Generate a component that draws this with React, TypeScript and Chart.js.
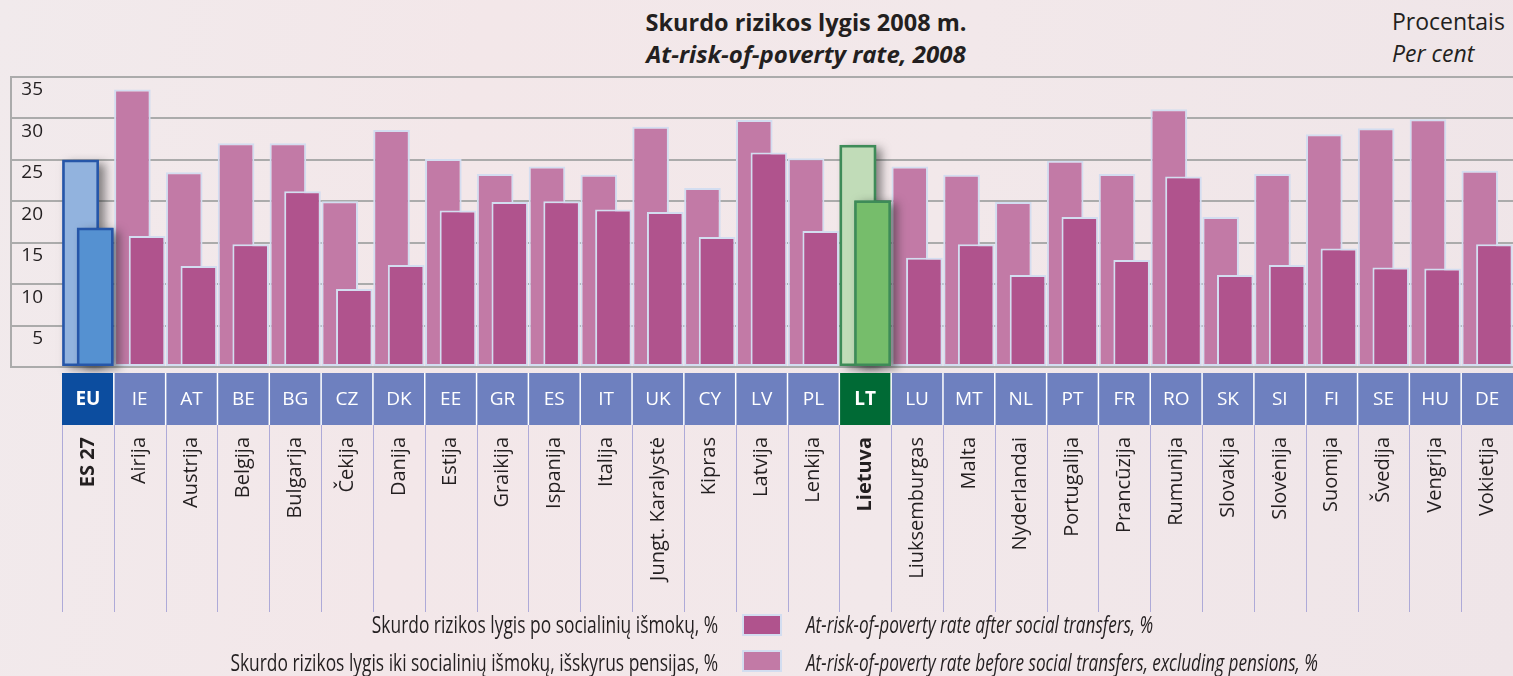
import React, { useEffect, useRef } from 'react';
import { Chart, registerables } from 'chart.js';

Chart.register(...registerables);

// ---- data ----
const codes = ['EU', 'IE', 'AT', 'BE', 'BG', 'CZ', 'DK', 'EE', 'GR', 'ES', 'IT', 'UK', 'CY', 'LV', 'PL', 'LT', 'LU', 'MT', 'NL', 'PT', 'FR', 'RO', 'SK', 'SI', 'FI', 'SE', 'HU', 'DE'];
const names = ['ES 27', 'Airija', 'Austrija', 'Belgija', 'Bulgarija', 'Čekija', 'Danija', 'Estija', 'Graikija', 'Ispanija', 'Italija', 'Jungt. Karalystė', 'Kipras', 'Latvija', 'Lenkija', 'Lietuva', 'Liuksemburgas', 'Malta', 'Nyderlandai', 'Portugalija', 'Prancūzija', 'Rumunija', 'Slovakija', 'Slovėnija', 'Suomija', 'Švedija', 'Vengrija', 'Vokietija'];
const beforeTransfers = [25, 33.5, 23.5, 27, 27, 20, 28.6, 25.1, 23.3, 24.2, 23.2, 29, 21.6, 29.8, 25.2, 26.8, 24.2, 23.2, 19.9, 24.9, 23.3, 31.1, 18.1, 23.3, 28.1, 28.8, 29.9, 23.7];
const afterTransfers = [16.8, 15.8, 12.2, 14.8, 21.2, 9.4, 12.3, 18.9, 19.9, 20.0, 19.0, 18.7, 15.7, 25.9, 16.4, 20.1, 13.2, 14.8, 11.1, 18.1, 12.9, 23.0, 11.1, 12.3, 14.3, 12.0, 11.9, 14.8];
const boldIndexes = [0, 15];

const titleLt = 'Skurdo rizikos lygis 2008 m.';
const titleEn = 'At-risk-of-poverty rate, 2008';
const unitLt = 'Procentais';
const unitEn = 'Per cent';
const legendAfterLt = 'Skurdo rizikos lygis po socialinių išmokų, %';
const legendAfterEn = 'At-risk-of-poverty rate after social transfers, %';
const legendBeforeLt = 'Skurdo rizikos lygis iki socialinių išmokų, išskyrus pensijas, %';
const legendBeforeEn = 'At-risk-of-poverty rate before social transfers, excluding pensions, %';

// ---- styles ----
const TEXT = '#231f20';
const PINK_BEFORE = '#c27aa6';
const PINK_AFTER = '#b0538d';
const PINK_BORDER = '#d3ddf0';
const EU_BEFORE = '#92b3de';
const EU_AFTER = '#5591d1';
const EU_BORDER = '#2656a8';
const LT_BEFORE = '#c1dcb8';
const LT_AFTER = '#76bd6b';
const LT_BORDER = '#3e8b58';
const GRID = '#ababab';

const fillFor = (i: number, before: boolean) =>
  i === 0 ? (before ? EU_BEFORE : EU_AFTER) : i === 15 ? (before ? LT_BEFORE : LT_AFTER) : before ? PINK_BEFORE : PINK_AFTER;
const borderFor = (i: number) => (i === 0 ? EU_BORDER : i === 15 ? LT_BORDER : PINK_BORDER);

const drawOrderPlugin = {
  id: 'drawOrder',
  beforeDatasetsDraw(chart: any) {
    const ctx = chart.ctx;
    for (let d = 0; d < chart.data.datasets.length; d++) {
      const meta = chart.getDatasetMeta(d);
      meta.data.forEach((el: any, i: number) => {
        if (boldIndexes.includes(i)) {
          const p = el.getProps(['x', 'y', 'base', 'width'], true);
          ctx.save();
          ctx.shadowColor = 'rgba(40,40,40,0.55)';
          ctx.shadowBlur = 9;
          ctx.shadowOffsetX = 6;
          ctx.shadowOffsetY = 3;
          ctx.fillStyle = borderFor(i);
          ctx.fillRect(p.x - p.width / 2, p.y, p.width, p.base - p.y);
          ctx.restore();
        }
        el.draw(ctx);
      });
    }
    return false;
  },
};

const tablePlugin = {
  id: 'countryTable',
  afterDraw(chart: any) {
    const { ctx, chartArea } = chart;
    const x = chart.scales.x;
    const y = chart.scales.y;
    const n = codes.length;
    const step = x.width / n;
    const boxTop = chartArea.bottom + 6;
    const boxH = 52;
    ctx.save();
    // left frame line
    ctx.strokeStyle = GRID;
    ctx.lineWidth = 2;
    ctx.beginPath();
    ctx.moveTo(y.left + 1, chartArea.top);
    ctx.lineTo(y.left + 1, chartArea.bottom);
    ctx.stroke();
    for (let i = 0; i < n; i++) {
      const cx = x.getPixelForValue(i);
      const l = cx - step / 2;
      ctx.fillStyle = i === 0 ? '#0c4d9f' : i === 15 ? '#006a35' : '#6e80bf';
      ctx.fillRect(l, boxTop, step, boxH);
      ctx.fillStyle = '#ffffff';
      ctx.font = `${boldIndexes.includes(i) ? 'bold ' : ''}19px "Open Sans"`;
      ctx.textAlign = 'center';
      ctx.textBaseline = 'middle';
      ctx.fillText(codes[i], cx, boxTop + boxH / 2 + 1);
    }
    // white separators between boxes
    ctx.strokeStyle = '#ffffff';
    ctx.lineWidth = 1.5;
    for (let i = 1; i < n; i++) {
      const bx = x.getPixelForValue(i) - step / 2;
      ctx.beginPath();
      ctx.moveTo(bx, boxTop);
      ctx.lineTo(bx, boxTop + boxH);
      ctx.stroke();
    }
    // separators below boxes
    ctx.strokeStyle = '#aeaad8';
    ctx.lineWidth = 1;
    for (let i = 0; i < n; i++) {
      const bx = Math.round(x.getPixelForValue(i) - step / 2) + 0.5;
      ctx.beginPath();
      ctx.moveTo(bx, boxTop + boxH);
      ctx.lineTo(bx, x.bottom);
      ctx.stroke();
    }
    ctx.restore();
  },
};

export default function App() {
  const ref = useRef<HTMLCanvasElement>(null);
  useEffect(() => {
    const chart = new Chart(ref.current as HTMLCanvasElement, {
      type: 'bar',
      data: {
        labels: names,
        datasets: [
          {
            label: legendBeforeEn,
            data: beforeTransfers,
            backgroundColor: (c: any) => fillFor(c.dataIndex, true),
            borderColor: (c: any) => borderFor(c.dataIndex),
            borderWidth: (c: any) => (boldIndexes.includes(c.dataIndex) ? 2.5 : 2),
            borderSkipped: false,
            categoryPercentage: 0.565,
            barPercentage: 2.5,
          },
          {
            label: legendAfterEn,
            data: afterTransfers,
            backgroundColor: (c: any) => fillFor(c.dataIndex, false),
            borderColor: (c: any) => borderFor(c.dataIndex),
            borderWidth: (c: any) => (boldIndexes.includes(c.dataIndex) ? 2.5 : 2),
            borderSkipped: false,
            categoryPercentage: 0.565,
            barPercentage: 2.5,
          },
        ],
      },
      options: {
        responsive: false,
        animation: false,
        layout: { padding: { left: 10, top: 77, right: 0, bottom: 64 } },
        plugins: {
          legend: { display: false },
          tooltip: { enabled: false },
          title: { display: false },
        },
        scales: {
          x: {
            grid: { display: false, drawTicks: true, tickLength: 70 },
            border: { display: false },
            ticks: {
              autoSkip: false,
              minRotation: 90,
              maxRotation: 90,
              padding: 0,
              color: TEXT,
              font: (c: any) => ({
                family: '"Open Sans"',
                size: 20,
                weight: boldIndexes.includes(c.index) ? 'bold' : 'normal',
              }),
            },
            afterFit: (s: any) => {
              s.height = 245;
              s.paddingLeft = 0;
              s.paddingRight = 0;
            },
          },
          y: {
            min: 0,
            max: 35,
            grid: { color: GRID, lineWidth: 2, tickLength: 52, drawTicks: true },
            border: { display: false },
            ticks: {
              stepSize: 5,
              padding: -33,
              labelOffset: 13,
              color: TEXT,
              font: { family: '"Open Sans"', size: 19 },
              callback: (v: any) => (v === 0 ? '' : String(v)),
            },
            afterFit: (s: any) => {
              s.width = 52;
            },
          },
        },
      },
      plugins: [drawOrderPlugin, tablePlugin],
    } as any);
    return () => chart.destroy();
  }, []);

  const swatch = (color: string, top: number): React.CSSProperties => ({
    position: 'absolute',
    left: 742,
    top,
    width: 36,
    height: 18,
    background: color,
    border: `2px solid ${PINK_BORDER}`,
  });
  const ltLegend = (top: number): React.CSSProperties => ({
    position: 'absolute',
    right: 1513 - 718,
    top,
    whiteSpace: 'nowrap',
    fontFamily: '"Open Sans", sans-serif',
    fontSize: 23,
    lineHeight: '26px',
    color: TEXT,
    transform: 'scaleX(0.756)',
    transformOrigin: 'right center',
  });
  const enLegend = (top: number): React.CSSProperties => ({
    position: 'absolute',
    left: 806,
    top,
    whiteSpace: 'nowrap',
    fontFamily: '"Open Sans", sans-serif',
    fontStyle: 'italic',
    fontSize: 23,
    lineHeight: '26px',
    color: TEXT,
    transform: 'scaleX(0.746)',
    transformOrigin: 'left center',
  });

  return (
    <div
      style={{
        position: 'absolute',
        left: 0,
        top: 0,
        width: 1513,
        height: 676,
        overflow: 'hidden',
        background: 'linear-gradient(100deg, #f1eaec 0%, #f3e7e9 30%, #f2e8ea 60%, #efe5e8 100%)',
        fontFamily: '"Open Sans", sans-serif',
        color: TEXT,
      }}
    >
      <div style={{ position: 'absolute', left: 506, width: 600, top: 6, textAlign: 'center', fontWeight: 700, fontSize: 23.5, lineHeight: '32px' }}>
        {titleLt}
      </div>
      <div style={{ position: 'absolute', left: 506, width: 600, top: 38, textAlign: 'center', fontWeight: 700, fontStyle: 'italic', fontSize: 24, lineHeight: '32px' }}>
        {titleEn}
      </div>
      <div style={{ position: 'absolute', left: 1392, top: 5, fontSize: 23, lineHeight: '32px' }}>{unitLt}</div>
      <div style={{ position: 'absolute', left: 1392, top: 37, fontSize: 23, lineHeight: '32px', fontStyle: 'italic' }}>{unitEn}</div>
      <canvas ref={ref} width={1513} height={676} style={{ position: 'absolute', left: 0, top: 0, width: 1513, height: 676 }} />
      <div style={ltLegend(611)}>{legendAfterLt}</div>
      <div style={swatch(PINK_AFTER, 614)} />
      <div style={enLegend(611)}>{legendAfterEn}</div>
      <div style={ltLegend(649)}>{legendBeforeLt}</div>
      <div style={swatch(PINK_BEFORE, 650)} />
      <div style={enLegend(649)}>{legendBeforeEn}</div>
    </div>
  );
}
